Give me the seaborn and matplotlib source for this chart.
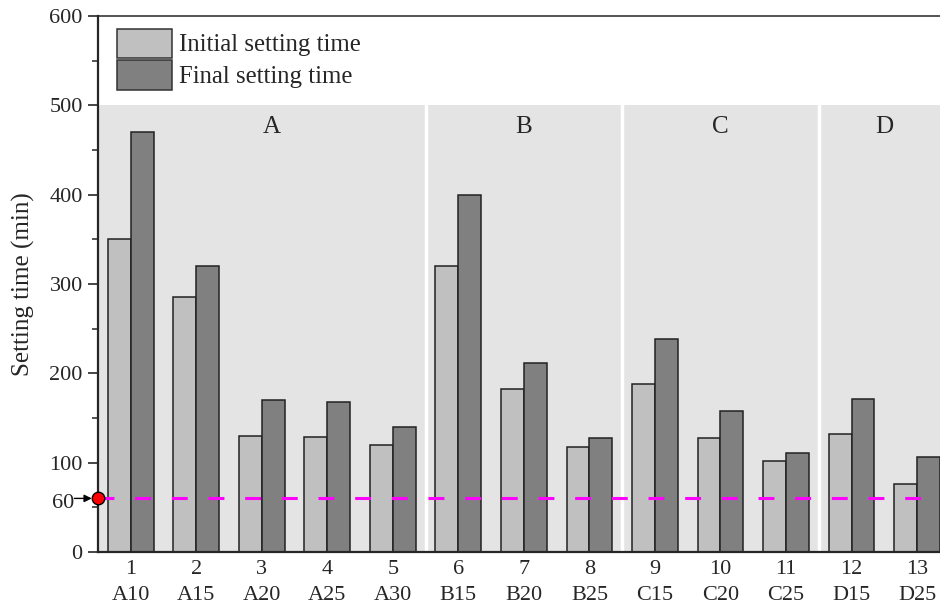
import numpy as np
import pandas as pd
import matplotlib
matplotlib.use("Agg")
import matplotlib.pyplot as plt
import seaborn as sns
from matplotlib.ticker import MultipleLocator, FixedLocator
from matplotlib.patches import Patch

# data
sample_no = list(range(1, 14))
sample_ids = ["A10", "A15", "A20", "A25", "A30", "B15", "B20", "B25",
              "C15", "C20", "C25", "D15", "D25"]
initial_time = [350, 285, 130, 129, 120, 320, 182, 118, 188, 128, 102, 132, 76]
final_time = [470, 320, 170, 168, 140, 400, 212, 128, 238, 158, 111, 171, 106]
series_names = ["Initial setting time", "Final setting time"]
group_names = ["A", "B", "C", "D"]
group_bounds = [5.5, 8.5, 11.5]
group_label_x = [3.15, 7.0, 10.0, 12.5]
limit_value = 60

COLORS = ["#c0c0c0", "#808080"]
SERIF = ["Liberation Serif", "DejaVu Serif"]

df = pd.DataFrame({
    "no": sample_no * 2,
    "time": initial_time + final_time,
    "series": [series_names[0]] * 13 + [series_names[1]] * 13,
})

sns.set_style("ticks")
plt.rcParams["font.family"] = SERIF

fig = plt.figure(figsize=(9.4, 6.1), dpi=100)
ax = fig.add_axes([98 / 940, 1 - 552 / 610, 1 - 98 / 940, (552 - 16) / 610])

# shaded group background with white separators
ax.axhspan(0, 500, color="#e4e4e4", zorder=0, lw=0)
for xb in group_bounds:
    ax.plot([xb, xb], [0, 500], color="white", lw=2.5, zorder=0.5)

sns.barplot(data=df, x="no", y="time", hue="series", native_scale=True,
            palette=COLORS, width=0.7, gap=0, edgecolor="#222222", linewidth=1.1,
            saturation=1, ax=ax, zorder=2, legend=False)

# 60 min reference line
ax.axhline(limit_value, color="#ff00ff", lw=2.2, ls=(0, (5.2, 6.8)), zorder=4)
ax.plot(0.5, limit_value, "o", color="red", mec="black", mew=1, ms=9,
        clip_on=False, zorder=10)
ax.annotate("", xy=(0.5, limit_value), xytext=(-17, 0), textcoords="offset points",
            arrowprops=dict(arrowstyle="-|>", color="black", lw=1,
                            shrinkA=0, shrinkB=4.5, mutation_scale=11),
            annotation_clip=False)
ax.annotate("60", xy=(0, limit_value), xycoords=("axes fraction", "data"),
            xytext=(-17, -4), textcoords="offset points", ha="right", va="center",
            fontsize=16)

for name, gx in zip(group_names, group_label_x):
    ax.text(gx, 476, name, ha="center", va="center", fontsize=18)

ax.set_xlim(0.5, 13.35)
ax.set_ylim(0, 600)
ax.yaxis.set_major_locator(FixedLocator([0, 100, 200, 300, 400, 500, 600]))
ax.yaxis.set_minor_locator(MultipleLocator(50))
ax.set_xticks(sample_no)
ax.set_xticklabels([f"{n}\n{s}" for n, s in zip(sample_no, sample_ids)],
                   linespacing=1.45)
ax.tick_params(axis="y", which="major", direction="out", length=7, width=1.2,
               labelsize=16, pad=4)
ax.tick_params(axis="y", which="minor", direction="out", length=4, width=1.1)
ax.tick_params(axis="x", length=0, labelsize=16, pad=6)
ax.set_xlabel("")
ax.set_ylabel("Setting time (min)", fontsize=18, labelpad=10)

for side in ["left", "bottom"]:
    ax.spines[side].set_linewidth(1.6)
ax.spines["top"].set_linewidth(1.1)
ax.spines["right"].set_visible(False)
ax.grid(False)

handles = [Patch(facecolor=c, edgecolor="#333333", lw=1.1) for c in COLORS]
ax.legend(handles, series_names, loc="upper left", frameon=False, fontsize=17.8,
          handlelength=2.2, handleheight=1.45, handletextpad=0.3, labelspacing=0.1,
          borderaxespad=0.0, borderpad=0.4, bbox_to_anchor=(0.011, 0.995))

fig.savefig("out.png", dpi=100)
